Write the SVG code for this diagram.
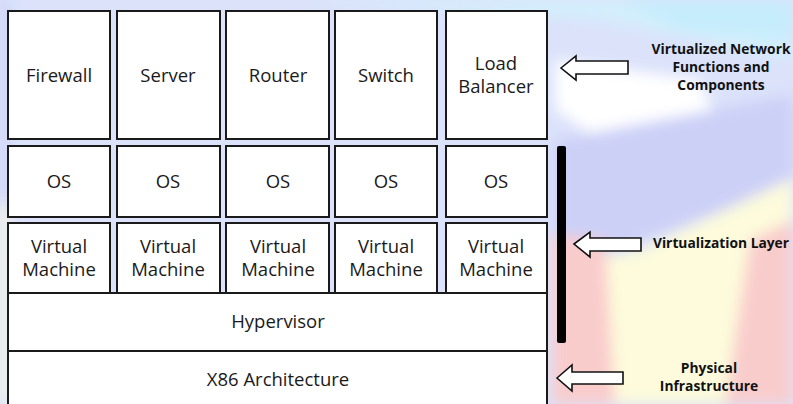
<svg xmlns="http://www.w3.org/2000/svg" width="793" height="404" viewBox="0 0 793 404">
<defs>
<filter id="blur" x="-20%" y="-20%" width="140%" height="140%"><feGaussianBlur stdDeviation="7"/></filter>
<style>
.box{fill:#ffffff;stroke:#1a1a1a;stroke-width:2}
.t{font-family:"Open Sans","Noto Sans",sans-serif;font-size:18.5px;fill:#1a1a1a;text-anchor:middle}
.lbl{font-family:"Open Sans","Noto Sans",sans-serif;font-size:13.8px;font-weight:bold;fill:#111;text-anchor:middle}
.arrow{fill:#ffffff;stroke:#111;stroke-width:1.6;stroke-linejoin:miter}
</style>
</defs>
<g id="background">
<rect x="0" y="0" width="793" height="404" fill="#dbe2fa"/>
<g filter="url(#blur)">
<polygon points="0,0 793,0 793,60 700,40 600,20 300,0" fill="#d3effc"/>
<polygon points="555,60 700,80 720,130 600,140 555,110" fill="#ffffff"/>
<polygon points="620,0 793,0 793,40 680,30" fill="#c6edfc"/>
<polygon points="555,140 793,95 793,180 740,205 600,255 555,250" fill="#ccd0f7"/>
<polygon points="560,265 640,250 793,178 793,404 560,404" fill="#fdfbdc"/>
<polygon points="552,235 605,240 615,404 552,404" fill="#f9cccc"/>
<polygon points="750,240 793,220 793,404 725,404" fill="#f9cccc"/>
<polygon points="0,205 8,205 8,404 0,404" fill="#fdfbdc"/>
<polygon points="0,0 8,0 8,200 0,200" fill="#ccd0f5"/>
</g>
</g>
<g id="vnf-row">
<g id="firewall"><rect class="box" x="8" y="11" width="102" height="128"/><text class="t" x="59" y="82">Firewall</text></g>
<g id="server"><rect class="box" x="117" y="11" width="103" height="128"/><text class="t" x="168" y="82">Server</text></g>
<g id="router"><rect class="box" x="226" y="11" width="103" height="128"/><text class="t" x="278" y="82">Router</text></g>
<g id="switch"><rect class="box" x="335" y="11" width="102" height="128"/><text class="t" x="386" y="82">Switch</text></g>
<g id="loadbalancer"><rect class="box" x="446" y="11" width="101" height="128"/><text class="t" x="496" y="70">Load</text><text class="t" x="496" y="93">Balancer</text></g>
</g>
<g id="os-row">
<g id="os1"><rect class="box" x="8" y="146" width="102" height="71"/><text class="t" x="59" y="188">OS</text></g>
<g id="os2"><rect class="box" x="117" y="146" width="103" height="71"/><text class="t" x="168" y="188">OS</text></g>
<g id="os3"><rect class="box" x="226" y="146" width="103" height="71"/><text class="t" x="278" y="188">OS</text></g>
<g id="os4"><rect class="box" x="335" y="146" width="102" height="71"/><text class="t" x="386" y="188">OS</text></g>
<g id="os5"><rect class="box" x="446" y="146" width="101" height="71"/><text class="t" x="496" y="188">OS</text></g>
</g>
<g id="vm-row">
<g id="vm1"><rect class="box" x="8" y="223" width="102" height="70"/><text class="t" x="59" y="253">Virtual</text><text class="t" x="59" y="276">Machine</text></g>
<g id="vm2"><rect class="box" x="117" y="223" width="103" height="70"/><text class="t" x="168" y="253">Virtual</text><text class="t" x="168" y="276">Machine</text></g>
<g id="vm3"><rect class="box" x="226" y="223" width="103" height="70"/><text class="t" x="278" y="253">Virtual</text><text class="t" x="278" y="276">Machine</text></g>
<g id="vm4"><rect class="box" x="335" y="223" width="102" height="70"/><text class="t" x="386" y="253">Virtual</text><text class="t" x="386" y="276">Machine</text></g>
<g id="vm5"><rect class="box" x="446" y="223" width="101" height="70"/><text class="t" x="496" y="253">Virtual</text><text class="t" x="496" y="276">Machine</text></g>
</g>
<g id="hypervisor"><rect class="box" x="8" y="293" width="539" height="58"/><text class="t" x="278" y="328">Hypervisor</text></g>
<g id="x86"><rect class="box" x="8" y="351" width="539" height="60"/><text class="t" x="278" y="386">X86 Architecture</text></g>
<g id="connectors">
<rect x="557" y="146" width="9" height="197" rx="2" fill="#000"/>
<polygon class="arrow" points="561,68 576,56 576,61 628,61 628,74 576,74 576,80"/>
<polygon class="arrow" points="574,244 590,232 590,238 641,238 641,251 590,251 590,257"/>
<polygon class="arrow" points="557,378 572,365 572,372 623,372 623,384 572,384 572,391"/>
</g>
<g id="labels">
<text class="lbl" x="721" y="54">Virtualized Network</text>
<text class="lbl" x="721" y="72">Functions and</text>
<text class="lbl" x="721" y="90">Components</text>
<text class="lbl" x="721" y="248">Virtualization Layer</text>
<text class="lbl" x="709" y="373">Physical</text>
<text class="lbl" x="709" y="391">Infrastructure</text>
</g>
</svg>
